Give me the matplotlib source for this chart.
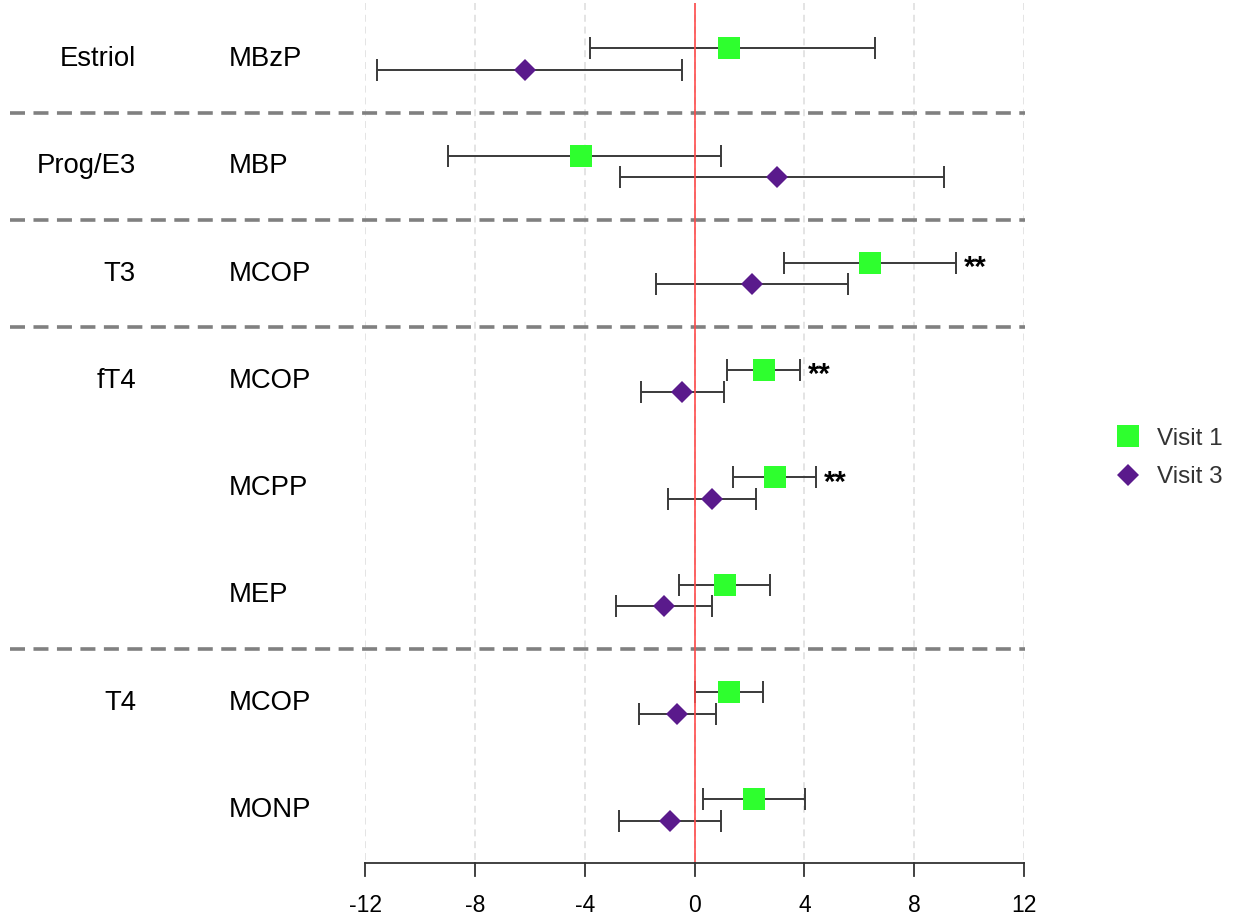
import matplotlib
matplotlib.use("Agg")
import matplotlib.pyplot as plt
from matplotlib.lines import Line2D

plt.rcParams['font.family'] = ['Liberation Sans', 'DejaVu Sans']
plt.rcParams['lines.scale_dashes'] = False

# Forest plot data: regression estimates with 95% CI per hormone / metabolite
groups = ['Estriol', 'Prog/E3', 'T3', 'fT4', '', '', 'T4', '']
compounds = ['MBzP', 'MBP', 'MCOP', 'MCOP', 'MCPP', 'MEP', 'MCOP', 'MONP']

v1_est = [1.26, -4.14, 6.40, 2.52, 2.92, 1.10, 1.24, 2.16]
v1_lo = [-3.79, -8.97, 3.26, 1.20, 1.41, -0.55, 0.00, 0.32]
v1_hi = [6.57, 0.97, 9.54, 3.86, 4.42, 2.75, 2.48, 4.02]

v3_est = [-6.18, 3.01, 2.09, -0.45, 0.64, -1.11, -0.62, -0.90]
v3_lo = [-11.56, -2.71, -1.39, -1.96, -0.97, -2.85, -2.02, -2.74]
v3_hi = [-0.47, 9.08, 5.58, 1.08, 2.24, 0.64, 0.80, 0.98]

v1_sig = ['', '', '**', '**', '**', '', '', '']

separators = [0.5, 1.5, 2.5, 5.5]
xticks = [-12, -8, -4, 0, 4, 8, 12]

green = '#2EFF2E'
purple = '#5A1A8C'
bar_col = '#3A3A3A'

W, H = 1243, 919
fig = plt.figure(figsize=(W / 100, H / 100), dpi=100)

px_left, px_right = 365, 1024
px_top, px_axis = 3, 863
ax = fig.add_axes([px_left / W, 1 - px_axis / H, (px_right - px_left) / W, (px_axis - px_top) / H])

n = len(compounds)
rows = list(range(n))
row_px = 107.3
ax.set_xlim(-12, 12)
ybot = (n - 1) + (px_axis - (59 + (n - 1) * row_px)) / row_px
ytop = -(59 - px_top) / row_px
ax.set_ylim(ybot, ytop)
ax.axis('off')

unit_px = (px_right - px_left) / 24.0
def px_to_x(px):
    return -12 + (px - px_left) / unit_px

# vertical reference grid
for t in xticks:
    ax.plot([t, t], [ytop, ybot], color='#DCDCDC', lw=1.1, dashes=(5, 3.5), zorder=1)

# horizontal group separators, extending under the labels
for s in separators:
    ax.plot([px_to_x(10), px_to_x(1025)], [s, s], color='#808080', lw=2.6,
            dashes=(10.8, 6.1), clip_on=False, zorder=2)

off = 0.1
y1 = [r - off for r in rows]
y3 = [r + off for r in rows]

ax.errorbar(v1_est, y1, xerr=[[e - l for e, l in zip(v1_est, v1_lo)], [h - e for e, h in zip(v1_est, v1_hi)]],
            fmt='none', ecolor=bar_col, elinewidth=1.4, capsize=7.9, capthick=1.4, zorder=3)
ax.errorbar(v3_est, y3, xerr=[[e - l for e, l in zip(v3_est, v3_lo)], [h - e for e, h in zip(v3_est, v3_hi)]],
            fmt='none', ecolor=bar_col, elinewidth=1.4, capsize=7.9, capthick=1.4, zorder=3)

# zero line
ax.plot([0, 0], [ytop, ybot], color='#FF4B4B', lw=1.2, zorder=4)

ax.plot(v1_est, y1, 's', color=green, ms=16, mec=green, mew=0, ls='none', zorder=5)
ax.plot(v3_est, y3, 'D', color=purple, ms=11.5, mec=purple, mew=0, ls='none', zorder=5)

# significance markers next to the upper CI limit
for yy, hi, s in zip(y1, v1_hi, v1_sig):
    if s:
        ax.annotate(s, (hi, yy), xytext=(5.5, -9.5), textcoords='offset points',
                    ha='left', va='baseline', fontsize=21, fontweight='bold', color='black')

# row labels
for r, g, c in zip(rows, groups, compounds):
    if g:
        ax.text(px_to_x(136), r, g, ha='right', va='center', fontsize=19.8, color='black', clip_on=False)
    ax.text(px_to_x(229), r, c, ha='left', va='center', fontsize=19.8, color='black', clip_on=False)

# bottom axis
ax.plot([-12, 12], [ybot, ybot], color='#333333', lw=1.3, clip_on=False, zorder=6)
tick_dy = 13 / row_px
for t in xticks:
    ax.plot([t, t], [ybot, ybot + tick_dy], color='#333333', lw=1.3, clip_on=False, zorder=6)
    ax.text(t, ybot + 42 / row_px, str(t), ha='center', va='center', fontsize=16.5,
            color='black', clip_on=False)

handles = [Line2D([], [], marker='s', color=green, ms=16, mew=0, ls='none'),
           Line2D([], [], marker='D', color=purple, ms=11.5, mew=0, ls='none')]
leg = fig.legend(handles, ['Visit 1', 'Visit 3'], loc='center left',
                 bbox_to_anchor=(1114 / W, 1 - 458 / H), frameon=False, fontsize=17.5,
                 handlelength=1.15, handletextpad=0.62, labelspacing=0.68, borderpad=0,
                 borderaxespad=0)
for txt in leg.get_texts():
    txt.set_color('#333333')

fig.savefig('out.png', dpi=100)
